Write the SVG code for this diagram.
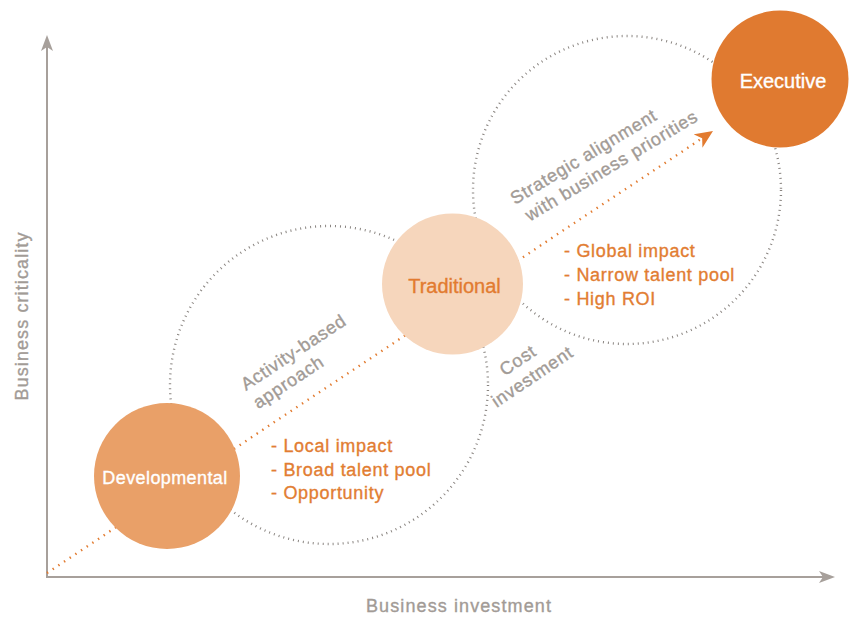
<svg xmlns="http://www.w3.org/2000/svg" width="851" height="617" viewBox="0 0 851 617">
  <style>
    .axis { stroke: #a7a09b; stroke-width: 2; fill: none; }
    .ring { stroke: #8a8581; stroke-width: 2.4; stroke-dasharray: 1 4; fill: none; }
    .path { stroke: #e27b30; stroke-width: 2.4; stroke-dasharray: 1.4 5.4; fill: none; }
    .lbl { font-family: "Liberation Sans", Arial, sans-serif; stroke-width: 0.35px; }
    .grey { fill: #a29b96; stroke: #a29b96; font-size: 18px; letter-spacing: 0.7px; }
    .list { fill: #e27d32; stroke: #e27d32; font-size: 18px; letter-spacing: 0.7px; }
    .node { font-size: 20px; text-anchor: middle; }
  </style>
  <defs>
    <marker id="axisHead" markerUnits="userSpaceOnUse" viewBox="0 0 16 12" markerWidth="16" markerHeight="12" refX="5" refY="6" orient="auto">
      <path d="M0,0 L16,6 L0,12 L4,6 Z" fill="#a7a09b"/>
    </marker>
    <marker id="orangeHead" markerUnits="userSpaceOnUse" viewBox="0 0 18 16" markerWidth="18" markerHeight="16" refX="6" refY="8" orient="auto">
      <path d="M0,0 L18,8 L0,16 L5,8 Z" fill="#e27b30"/>
    </marker>
  </defs>

  <g id="axes">
    <line class="axis" x1="47" y1="578" x2="47" y2="46" marker-end="url(#axisHead)"/>
    <line class="axis" x1="46" y1="577" x2="824" y2="577" marker-end="url(#axisHead)"/>
    <text class="lbl grey" x="459" y="612" text-anchor="middle" style="font-size:18px;letter-spacing:1.1px">Business investment</text>
    <text class="lbl grey" transform="translate(28,316) rotate(-90)" text-anchor="middle" style="font-size:18px;letter-spacing:1.1px">Business criticality</text>
  </g>

  <g id="connectors">
    <circle id="ring-left" class="ring" cx="329" cy="385" r="159"/>
    <circle id="ring-right" class="ring" cx="627" cy="190" r="154"/>
    <line id="growth-path" class="path" x1="47" y1="573" x2="703" y2="137.7" marker-end="url(#orangeHead)"/>
  </g>

  <g id="node-developmental">
    <circle cx="167" cy="476" r="73" fill="#e9a068"/>
    <text class="lbl node" x="165" y="484" fill="#ffffff" stroke="#ffffff" style="font-size:18px;letter-spacing:0.4px">Developmental</text>
  </g>

  <g id="node-traditional">
    <circle cx="452.5" cy="284" r="70.5" fill="#f6d6bc"/>
    <text class="lbl node" x="454.5" y="293" fill="#e27b30" stroke="#e27b30">Traditional</text>
  </g>

  <g id="node-executive">
    <circle cx="780" cy="79" r="68.5" fill="#e07a30"/>
    <text class="lbl node" x="783" y="88" fill="#ffffff" stroke="#ffffff">Executive</text>
  </g>

  <g id="labels">
    <text class="lbl grey" transform="translate(246,391) rotate(-33.5)">
      <tspan x="0" y="0">Activity-based</tspan>
      <tspan x="0" y="22">approach</tspan>
    </text>
    <text class="lbl grey" transform="translate(523.6,363.8) rotate(-34)" text-anchor="middle">
      <tspan x="0" y="0">Cost</tspan>
      <tspan x="0" y="21.5">investment</tspan>
    </text>
    <text class="lbl grey" transform="translate(515,205) rotate(-31)">
      <tspan x="0" y="0">Strategic alignment</tspan>
      <tspan x="4" y="22">with business priorities</tspan>
    </text>
  </g>

  <g id="list-developmental">
    <text class="lbl list" x="271" y="452">- Local impact</text>
    <text class="lbl list" x="271" y="475.5">- Broad talent pool</text>
    <text class="lbl list" x="271" y="499">- Opportunity</text>
  </g>

  <g id="list-executive">
    <text class="lbl list" x="564" y="257">- Global impact</text>
    <text class="lbl list" x="564" y="281">- Narrow talent pool</text>
    <text class="lbl list" x="564" y="305">- High ROI</text>
  </g>
</svg>
